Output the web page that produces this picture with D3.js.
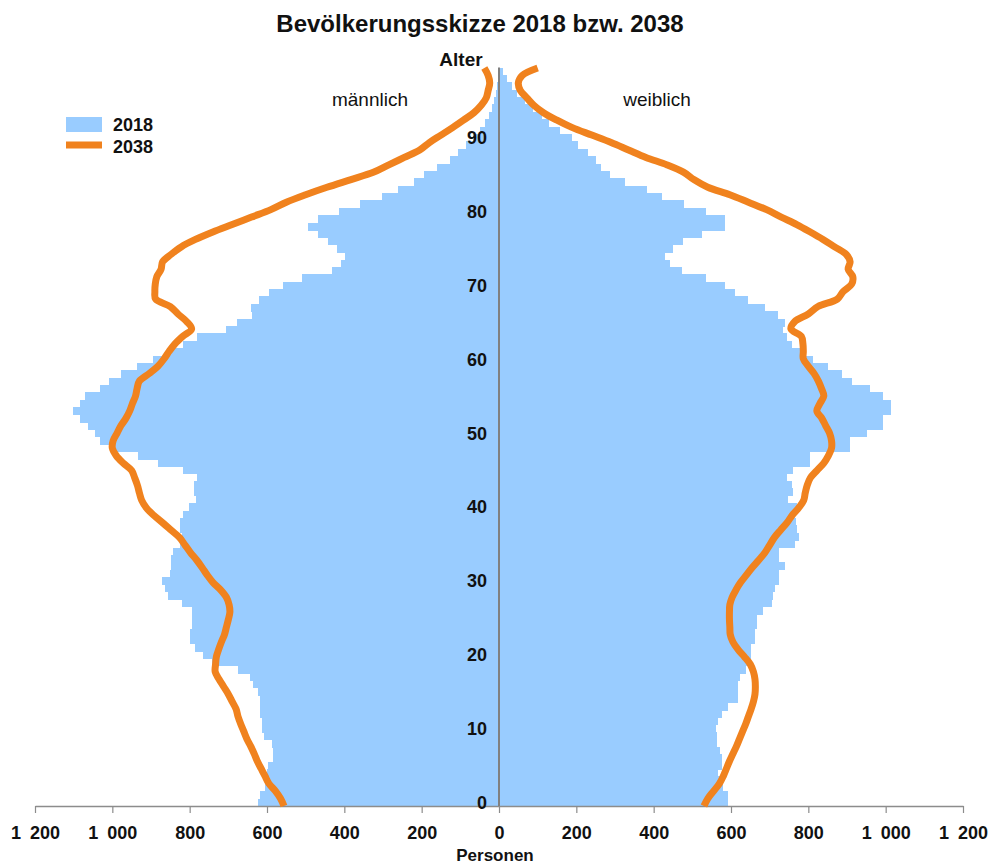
<!DOCTYPE html>
<html>
<head>
<meta charset="utf-8">
<title>Bevölkerungsskizze 2018 bzw. 2038</title>
<script src="https://d3js.org/d3.v7.min.js"></script>
<style>
  body { margin: 0; background: #fff; }
  text { font-family: "Liberation Sans", Arial, sans-serif; fill: #111; }
</style>
</head>
<body>
<script>
  var width = 990
  var height = 865

  // ages 0..99, one bar per year
  var ages = d3.range(0, 100)

  // 2018, persons per age (bars)
  var men2018 = [622, 618, 605, 601, 601, 597, 585, 584, 588, 609,
                 614, 614, 617, 618, 618, 622, 636, 644, 674, 743,
                 765, 786, 799, 799, 795, 795, 795, 821, 855, 864,
                 872, 851, 847, 847, 842, 825, 821, 825, 825, 816,
                 803, 783, 790, 790, 782, 816, 883, 934, 1006, 1032,
                 1045, 1062, 1084, 1103, 1084, 1071, 1032, 1008, 977, 937,
                 895, 850, 816, 782, 706, 678, 640, 642, 620, 594,
                 558, 509, 433, 409, 398, 420, 441, 467, 495, 467,
                 414, 359, 302, 260, 220, 193, 161, 128, 105, 85,
                 66, 49, 36, 25, 19, 12, 8, 5, 3, 2]

  var women2018 = [593, 593, 580, 580, 567, 576, 576, 572, 563, 565,
                   561, 567, 576, 593, 619, 619, 619, 623, 640, 653,
                   653, 653, 662, 662, 666, 666, 684, 705, 709, 714,
                   723, 723, 740, 723, 723, 765, 775, 770, 768, 765,
                   770, 748, 761, 757, 744, 761, 804, 804, 908, 908,
                   951, 994, 994, 1015, 1015, 994, 959, 912, 886, 852,
                   813, 787, 757, 744, 735, 740, 722, 688, 645, 610,
                   584, 535, 472, 442, 429, 449, 477, 524, 584, 584,
                   535, 479, 421, 382, 326, 287, 265, 250, 231, 205,
                   190, 158, 130, 110, 89, 67, 46, 33, 20, 11]

  // 2038, persons per age (lines)
  var men2038 = [556, 565, 578, 595, 605, 615, 625, 633, 642, 652,
                 660, 668, 675, 680, 690, 700, 712, 724, 734, 733,
                 731, 725, 718, 710, 705, 700, 696, 698, 705, 720,
                 740, 755, 768, 782, 798, 812, 826, 848, 870, 893,
                 912, 924, 930, 935, 942, 950, 972, 990, 1000, 998,
                 988, 978, 965, 955, 948, 940, 936, 930, 905, 882,
                 866, 853, 838, 818, 795, 808, 830, 850, 888, 890,
                 889, 885, 874, 870, 848, 822, 785, 740, 690, 640,
                 590, 550, 500, 445, 385, 325, 285, 245, 205, 180,
                 150, 120, 92, 65, 46, 33, 28, 24, 28, 38]

  var women2038 = [530, 540, 555, 570, 580, 588, 596, 605, 614, 622,
                   630, 638, 645, 652, 658, 662, 663, 662, 658, 650,
                   635, 618, 605, 598, 597, 596, 596, 597, 603, 613,
                   625, 640, 655, 672, 688, 700, 712, 728, 745, 758,
                   775, 788, 792, 797, 805, 822, 840, 852, 860, 860,
                   855, 845, 835, 822, 830, 840, 834, 826, 815, 800,
                   787, 787, 786, 782, 755, 765, 800, 825, 875, 890,
                   912, 915, 903, 908, 898, 868, 838, 805, 770, 730,
                   692, 645, 597, 540, 505, 478, 435, 380, 335, 290,
                   240, 190, 150, 115, 90, 72, 55, 50, 60, 100]

  var xTicks = [-1200, -1000, -800, -600, -400, -200, 0, 200, 400, 600, 800, 1000, 1200]
  var ageTicks = [0, 10, 20, 30, 40, 50, 60, 70, 80, 90]

  var blue = "#99ccff"
  var orange = "#f0821e"

  var svg = d3.select("body")
              .append("svg")
              .attr("width", width)
              .attr("height", height)

  var x = d3.scaleLinear()
            .domain([-1200, 1200])
            .range([35, 963])

  var y = d3.scaleBand()
            .domain(ages)
            .range([806, 67.5])

  // the 2038 lines run from the bottom edge to the top edge
  var yLine = d3.scaleLinear()
                .domain([0, 99])
                .range([806, 68])

  // bars
  svg.append("g")
     .attr("shape-rendering", "crispEdges")
     .selectAll("rect")
     .data(ages)
     .enter()
     .append("rect")
     .attr("x", function(d) { return x(-men2018[d]) })
     .attr("y", function(d) { return y(d) })
     .attr("width", function(d) { return x(0) - x(-men2018[d]) })
     .attr("height", y.bandwidth() + 0.6)
     .attr("fill", blue)

  svg.append("g")
     .attr("shape-rendering", "crispEdges")
     .selectAll("rect")
     .data(ages)
     .enter()
     .append("rect")
     .attr("x", x(0))
     .attr("y", function(d) { return y(d) })
     .attr("width", function(d) { return x(women2018[d]) - x(0) })
     .attr("height", y.bandwidth() + 0.6)
     .attr("fill", blue)

  // bottom axis
  var fmt = function(d) {
    var v = Math.abs(d)
    return v >= 1000 ? Math.floor(v / 1000) + "\u2002" + d3.format("03")(v % 1000) : String(v)
  }

  var xAxis = svg.append("g")
     .attr("transform", "translate(0,806)")
     .call(d3.axisBottom(x).tickValues(xTicks).tickFormat(fmt).tickSize(7).tickSizeOuter(0))

  xAxis.select(".domain").attr("stroke", "#8c8c8c").attr("stroke-width", 1.5)
  xAxis.selectAll(".tick line").attr("stroke", "#8c8c8c").attr("stroke-width", 1.2)
  xAxis.selectAll(".tick text")
       .attr("y", 20)
       .attr("dy", "0.71em")
       .style("font-family", '"Liberation Sans", Arial, sans-serif')
       .style("font-size", "18px")
       .style("font-weight", "bold")
       .attr("fill", "#111")

  // vertical centre axis
  svg.append("line")
     .attr("x1", x(0)).attr("x2", x(0))
     .attr("y1", 67.5).attr("y2", 806)
     .attr("stroke", "#808080")
     .attr("stroke-width", 2)

  // age labels
  svg.append("g")
     .selectAll("text")
     .data(ageTicks)
     .enter()
     .append("text")
     .attr("x", 487)
     .attr("y", function(d) { return y(d) + y.bandwidth() / 2 })
     .attr("dy", "0.36em")
     .attr("text-anchor", "end")
     .style("font-size", "18px")
     .style("font-weight", "bold")
     .attr("fill", "#222")
     .text(function(d) { return d })

  // 2038 lines
  var lineMen = d3.line()
                  .x(function(d) { return x(-men2038[d]) })
                  .y(function(d) { return yLine(d) })
                  .curve(d3.curveCatmullRom)

  var lineWomen = d3.line()
                    .x(function(d) { return x(women2038[d]) })
                    .y(function(d) { return yLine(d) })
                    .curve(d3.curveCatmullRom)

  svg.append("path")
     .attr("d", lineMen(ages))
     .attr("fill", "none")
     .attr("stroke", orange)
     .attr("stroke-width", 7)
     .attr("stroke-linejoin", "round")

  svg.append("path")
     .attr("d", lineWomen(ages))
     .attr("fill", "none")
     .attr("stroke", orange)
     .attr("stroke-width", 7)
     .attr("stroke-linejoin", "round")

  // titles
  svg.append("text")
     .attr("x", 480).attr("y", 32)
     .attr("text-anchor", "middle")
     .style("font-size", "24px")
     .style("font-weight", "bold")
     .text("Bevölkerungsskizze 2018 bzw. 2038")

  svg.append("text")
     .attr("x", 461).attr("y", 66)
     .attr("text-anchor", "middle")
     .style("font-size", "19px")
     .style("font-weight", "bold")
     .text("Alter")

  svg.append("text")
     .attr("x", 370).attr("y", 106)
     .attr("text-anchor", "middle")
     .style("font-size", "19px")
     .text("männlich")

  svg.append("text")
     .attr("x", 657).attr("y", 106)
     .attr("text-anchor", "middle")
     .style("font-size", "19px")
     .text("weiblich")

  svg.append("text")
     .attr("x", 495).attr("y", 861)
     .attr("text-anchor", "middle")
     .style("font-size", "17px")
     .style("font-weight", "bold")
     .text("Personen")

  // legend
  var legend = svg.append("g")
  legend.append("rect")
        .attr("x", 66).attr("y", 117)
        .attr("width", 36).attr("height", 15)
        .attr("fill", blue)
  legend.append("line")
        .attr("x1", 66).attr("x2", 102)
        .attr("y1", 145).attr("y2", 145)
        .attr("stroke", orange)
        .attr("stroke-width", 7)
  legend.append("text")
        .attr("x", 113).attr("y", 131)
        .style("font-size", "18px")
        .style("font-weight", "bold")
        .text("2018")
  legend.append("text")
        .attr("x", 113).attr("y", 153)
        .style("font-size", "18px")
        .style("font-weight", "bold")
        .text("2038")
</script>
</body>
</html>
